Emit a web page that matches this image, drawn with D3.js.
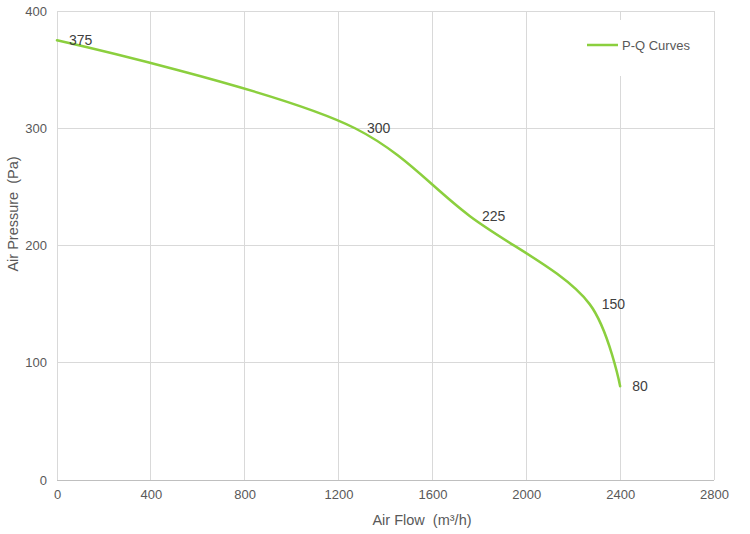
<!DOCTYPE html>
<html>
<head>
<meta charset="utf-8">
<script src="https://cdn.jsdelivr.net/npm/d3@7"></script>
<style>
  body { margin: 0; background: #fff; }
  text { font-family: "Liberation Sans", Arial, Helvetica, sans-serif; }
</style>
</head>
<body>
<div id="chart"></div>
<script>
// P-Q curve readings
const flow = [0, 1270, 1760, 2270, 2400];
const pressure = [375, 300, 225, 150, 80];
const xTicks = [0, 400, 800, 1200, 1600, 2000, 2400, 2800];
const yTicks = [0, 100, 200, 300, 400];
const seriesName = "P-Q Curves";

const width = 750, height = 534;
const margin = { top: 11, right: 36, bottom: 54, left: 57 };
const gridColor = "#d9d9d9", textColor = "#595959", lineColor = "#8bcf3e";

const svg = d3.select("#chart").append("svg")
  .attr("width", width)
  .attr("height", height);

const x = d3.scaleLinear().domain([0, 2800]).range([margin.left, width - margin.right]);
const y = d3.scaleLinear().domain([0, 400]).range([height - margin.bottom, margin.top]);

/* grid */
svg.append("g").selectAll("line.v").data(xTicks).enter().append("line")
  .attr("x1", d => x(d)).attr("x2", d => x(d))
  .attr("y1", y(400)).attr("y2", y(0))
  .attr("stroke", gridColor).attr("stroke-width", 1).attr("shape-rendering", "crispEdges");
svg.append("g").selectAll("line.h").data(yTicks).enter().append("line")
  .attr("x1", x(0)).attr("x2", x(2800))
  .attr("y1", d => y(d)).attr("y2", d => y(d))
  .attr("stroke", d => d === 0 ? "#bfbfbf" : gridColor).attr("stroke-width", 1).attr("shape-rendering", "crispEdges");

/* axes (labels only) */
const xAxis = d3.axisBottom(x).tickValues(xTicks).tickSize(0).tickPadding(10).tickFormat(d3.format("d"));
const gx = svg.append("g").attr("transform", `translate(0,${y(0)})`).call(xAxis);
gx.select(".domain").remove();
gx.selectAll("text").attr("fill", textColor).style("font-size", "13px");

const yAxis = d3.axisLeft(y).tickValues(yTicks).tickSize(0).tickPadding(10).tickFormat(d3.format("d"));
const gy = svg.append("g").attr("transform", `translate(${x(0)},0)`).call(yAxis);
gy.select(".domain").remove();
gy.selectAll("text").attr("fill", textColor).style("font-size", "13px");

/* axis titles (offset like the original, not centred on the plot) */
svg.append("text")
  .attr("x", 422).attr("y", 525)
  .attr("text-anchor", "middle").attr("fill", textColor).style("font-size", "14.5px")
  .attr("xml:space", "preserve")
  .text("Air Flow  (m³/h)");
svg.append("text")
  .attr("transform", "translate(18,214) rotate(-90)")
  .attr("text-anchor", "middle").attr("fill", textColor).style("font-size", "14.5px")
  .attr("xml:space", "preserve")
  .text("Air Pressure  (Pa)");

/* legend box covers the grid */
const lg = svg.append("g");
lg.append("rect").attr("x", 578).attr("y", 20).attr("width", 124).attr("height", 56).attr("fill", "#fff");
lg.append("line").attr("x1", 587).attr("x2", 618).attr("y1", 45).attr("y2", 45)
  .attr("stroke", lineColor).attr("stroke-width", 2.5);
lg.append("text").attr("x", 622).attr("y", 45).attr("dy", "0.35em")
  .attr("fill", textColor).style("font-size", "13px").text(seriesName);

/* curve */
const pts = flow.map((f, i) => ({ f: f, p: pressure[i] }));
const line = d3.line()
  .x(d => x(d.f))
  .y(d => y(d.p))
  .curve(d3.curveCatmullRom.alpha(0.5));
svg.append("path")
  .attr("d", line(pts))
  .attr("fill", "none")
  .attr("stroke", lineColor)
  .attr("stroke-width", 2.5)
  .attr("stroke-linecap", "round");

/* data labels */
svg.append("g").selectAll("text").data(pts).enter().append("text")
  .attr("x", d => x(d.f) + 12)
  .attr("y", d => y(d.p))
  .attr("dy", "0.35em")
  .attr("fill", "#404040")
  .style("font-size", "14px")
  .text(d => d.p);
</script>
</body>
</html>
